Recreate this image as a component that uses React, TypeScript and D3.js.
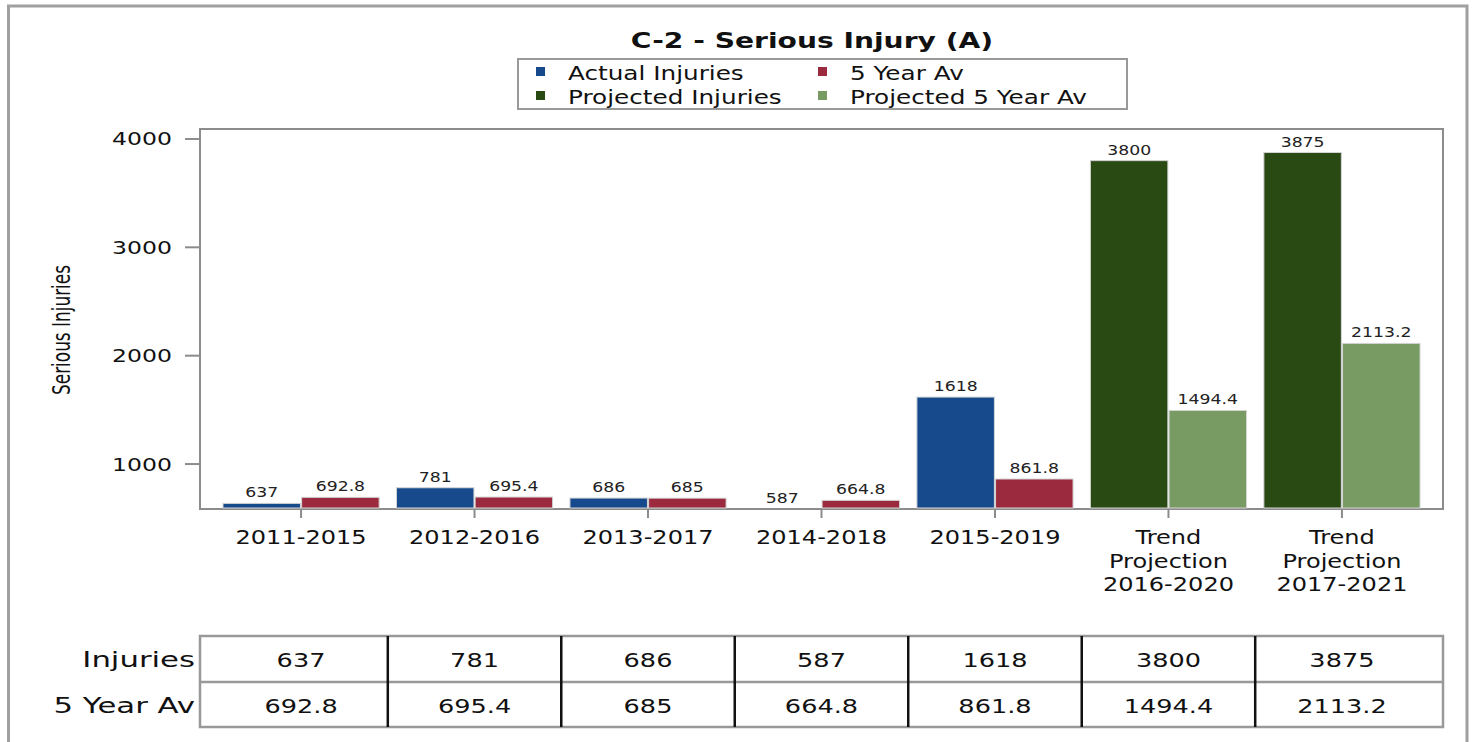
import React, { useEffect, useRef } from 'react';
import * as d3 from 'd3';

const categories = [
  '2011-2015',
  '2012-2016',
  '2013-2017',
  '2014-2018',
  '2015-2019',
  'Trend\nProjection\n2016-2020',
  'Trend\nProjection\n2017-2021',
];
const injuries = [637, 781, 686, 587, 1618, 3800, 3875];
const fiveYearAv = [692.8, 695.4, 685, 664.8, 861.8, 1494.4, 2113.2];
const isProjection = [false, false, false, false, false, true, true];
const legendLabels = ['Actual Injuries', '5 Year Av', 'Projected Injuries', 'Projected 5 Year Av'];
const rowLabels = ['Injuries', '5 Year Av'];
const yTicks = [1000, 2000, 3000, 4000];

const COLORS = {
  actual: '#174a8c',
  avg: '#9b2a3e',
  projected: '#2a4a14',
  projectedAvg: '#789a63',
};

const FONT = '"DejaVu Sans", Verdana, sans-serif';
const SX = 1.28; // the source text is drawn wide

const App: React.FC = () => {
  const svgRef = useRef<SVGSVGElement>(null);

  useEffect(() => {
    if (!svgRef.current) return;
    const svg = d3.select(svgRef.current);
    svg.selectAll('*').remove();

    const width = 1475;
    const height = 742;
    const plot = { left: 200, right: 1443, top: 129, bottom: 509 };

    // helper for horizontally stretched text
    const addText = (
      parent: d3.Selection<any, unknown, null, undefined>,
      x: number,
      y: number,
      str: string,
      opts: { size: number; weight?: string; anchor?: string; sx?: number; fill?: string }
    ) =>
      parent
        .append('text')
        .attr('transform', `translate(${x},${y}) scale(${opts.sx ?? SX},1)`)
        .attr('text-anchor', opts.anchor ?? 'middle')
        .style('font-family', FONT)
        .style('font-size', `${opts.size}px`)
        .style('font-weight', opts.weight ?? 'normal')
        .style('fill', opts.fill ?? '#111')
        .text(str);

    // Outer frame
    svg
      .append('rect')
      .attr('x', 8.5)
      .attr('y', 6)
      .attr('width', 1467 - 8.5)
      .attr('height', height + 20)
      .attr('fill', 'white')
      .attr('stroke', '#a0a0a0')
      .attr('stroke-width', 3);

    // Scales
    const x0 = d3
      .scaleBand<string>()
      .domain(categories)
      .range([plot.left, plot.right])
      .paddingInner(0.1)
      .paddingOuter(0.1325);
    const x1 = d3.scaleBand<string>().domain(['inj', 'avg']).range([0, x0.bandwidth()]).paddingInner(0.015);
    const y = d3.scaleLinear().domain([585, 4092]).range([plot.bottom, plot.top]);

    // Title
    addText(svg, 812, 48, 'C-2 - Serious Injury (A)', { size: 22, weight: 'bold' });

    // Legend
    const legend = svg.append('g');
    legend
      .append('rect')
      .attr('x', 518)
      .attr('y', 59)
      .attr('width', 609)
      .attr('height', 50)
      .attr('fill', 'white')
      .attr('stroke', '#999')
      .attr('stroke-width', 2);
    const legendColors = [COLORS.actual, COLORS.avg, COLORS.projected, COLORS.projectedAvg];
    legendLabels.forEach((lbl, i) => {
      const col = i % 2;
      const row = Math.floor(i / 2);
      const mx = col === 0 ? 536 : 818;
      const ty = 80 + row * 24;
      legend
        .append('rect')
        .attr('x', mx)
        .attr('y', ty - 13)
        .attr('width', 9)
        .attr('height', 9)
        .attr('fill', legendColors[i]);
      addText(legend, mx + 32, ty, lbl, { size: 19.3, anchor: 'start' });
    });

    // Plot frame
    svg
      .append('rect')
      .attr('x', plot.left)
      .attr('y', plot.top)
      .attr('width', plot.right - plot.left)
      .attr('height', plot.bottom - plot.top)
      .attr('fill', 'white')
      .attr('stroke', '#8c8c8c')
      .attr('stroke-width', 2);

    // Y axis ticks + labels
    const yAxis = svg.append('g');
    yTicks.forEach((t) => {
      yAxis
        .append('line')
        .attr('x1', plot.left - 15)
        .attr('x2', plot.left)
        .attr('y1', y(t))
        .attr('y2', y(t))
        .attr('stroke', '#8c8c8c')
        .attr('stroke-width', 2);
      addText(yAxis, plot.left - 28, y(t) + 6.5, String(t), { size: 18.4, anchor: 'end' });
    });

    // Y axis title
    svg
      .append('text')
      .attr('transform', 'translate(70,330) rotate(-90)')
      .attr('text-anchor', 'middle')
      .attr('textLength', 130)
      .attr('lengthAdjust', 'spacingAndGlyphs')
      .style('font-family', '"Liberation Sans Narrow", "DejaVu Sans Condensed", sans-serif')
      .style('font-size', '24px')
      .style('fill', '#111')
      .text('Serious Injuries');

    // Bars
    const bars = svg.append('g');
    categories.forEach((cat, i) => {
      const gx = x0(cat) as number;
      const series = [
        { key: 'inj', value: injuries[i], color: isProjection[i] ? COLORS.projected : COLORS.actual },
        { key: 'avg', value: fiveYearAv[i], color: isProjection[i] ? COLORS.projectedAvg : COLORS.avg },
      ];
      series.forEach((s) => {
        const bx = gx + (x1(s.key) as number);
        const top = Math.min(y(s.value), plot.bottom);
        if (plot.bottom - top > 0.5) {
          bars
            .append('rect')
            .attr('x', bx)
            .attr('y', top)
            .attr('width', x1.bandwidth())
            .attr('height', plot.bottom - top - 1)
            .attr('fill', s.color)
            .attr('stroke', '#d4d4d4')
            .attr('stroke-width', 1);
        }
        addText(bars, bx + x1.bandwidth() / 2, top - 6, String(s.value), { size: 13.5, fill: '#222' });
      });
    });

    // X axis ticks + labels
    const xAxis = svg.append('g');
    categories.forEach((cat) => {
      const cx = (x0(cat) as number) + x0.bandwidth() / 2;
      xAxis
        .append('line')
        .attr('x1', cx)
        .attr('x2', cx)
        .attr('y1', plot.bottom)
        .attr('y2', plot.bottom + 9)
        .attr('stroke', '#8c8c8c')
        .attr('stroke-width', 2);
      cat.split('\n').forEach((line, li) => {
        addText(xAxis, cx, 544 + li * 23.5, line, { size: 18.8 });
      });
    });

    // Data table
    const table = svg.append('g');
    const tTop = 636;
    const tMid = 682;
    const tBottom = 727;
    const centers = categories.map((c) => (x0(c) as number) + x0.bandwidth() / 2);
    table
      .append('rect')
      .attr('x', plot.left)
      .attr('y', tTop)
      .attr('width', plot.right - plot.left)
      .attr('height', tBottom - tTop)
      .attr('fill', 'white')
      .attr('stroke', '#999')
      .attr('stroke-width', 2.5);
    table
      .append('line')
      .attr('x1', plot.left)
      .attr('x2', plot.right)
      .attr('y1', tMid)
      .attr('y2', tMid)
      .attr('stroke', '#999')
      .attr('stroke-width', 2.5);
    for (let i = 0; i < centers.length - 1; i++) {
      const dx = (centers[i] + centers[i + 1]) / 2;
      table
        .append('line')
        .attr('x1', dx)
        .attr('x2', dx)
        .attr('y1', tTop)
        .attr('y2', tBottom)
        .attr('stroke', '#111')
        .attr('stroke-width', 2.5);
    }
    [injuries, fiveYearAv].forEach((vals, r) => {
      const by = r === 0 ? 666.5 : 712.5;
      addText(table, plot.left - 5, by, rowLabels[r], { size: 20.5, anchor: 'end', sx: 1.5 });
      vals.forEach((v, i) => {
        addText(table, centers[i], by, String(v), { size: 20 });
      });
    });

    svg.attr('width', width).attr('height', height);
  }, []);

  return (
    <svg
      ref={svgRef}
      width={1475}
      height={742}
      style={{ position: 'absolute', left: 0, top: 0, display: 'block', background: 'white' }}
    />
  );
};

export default App;
